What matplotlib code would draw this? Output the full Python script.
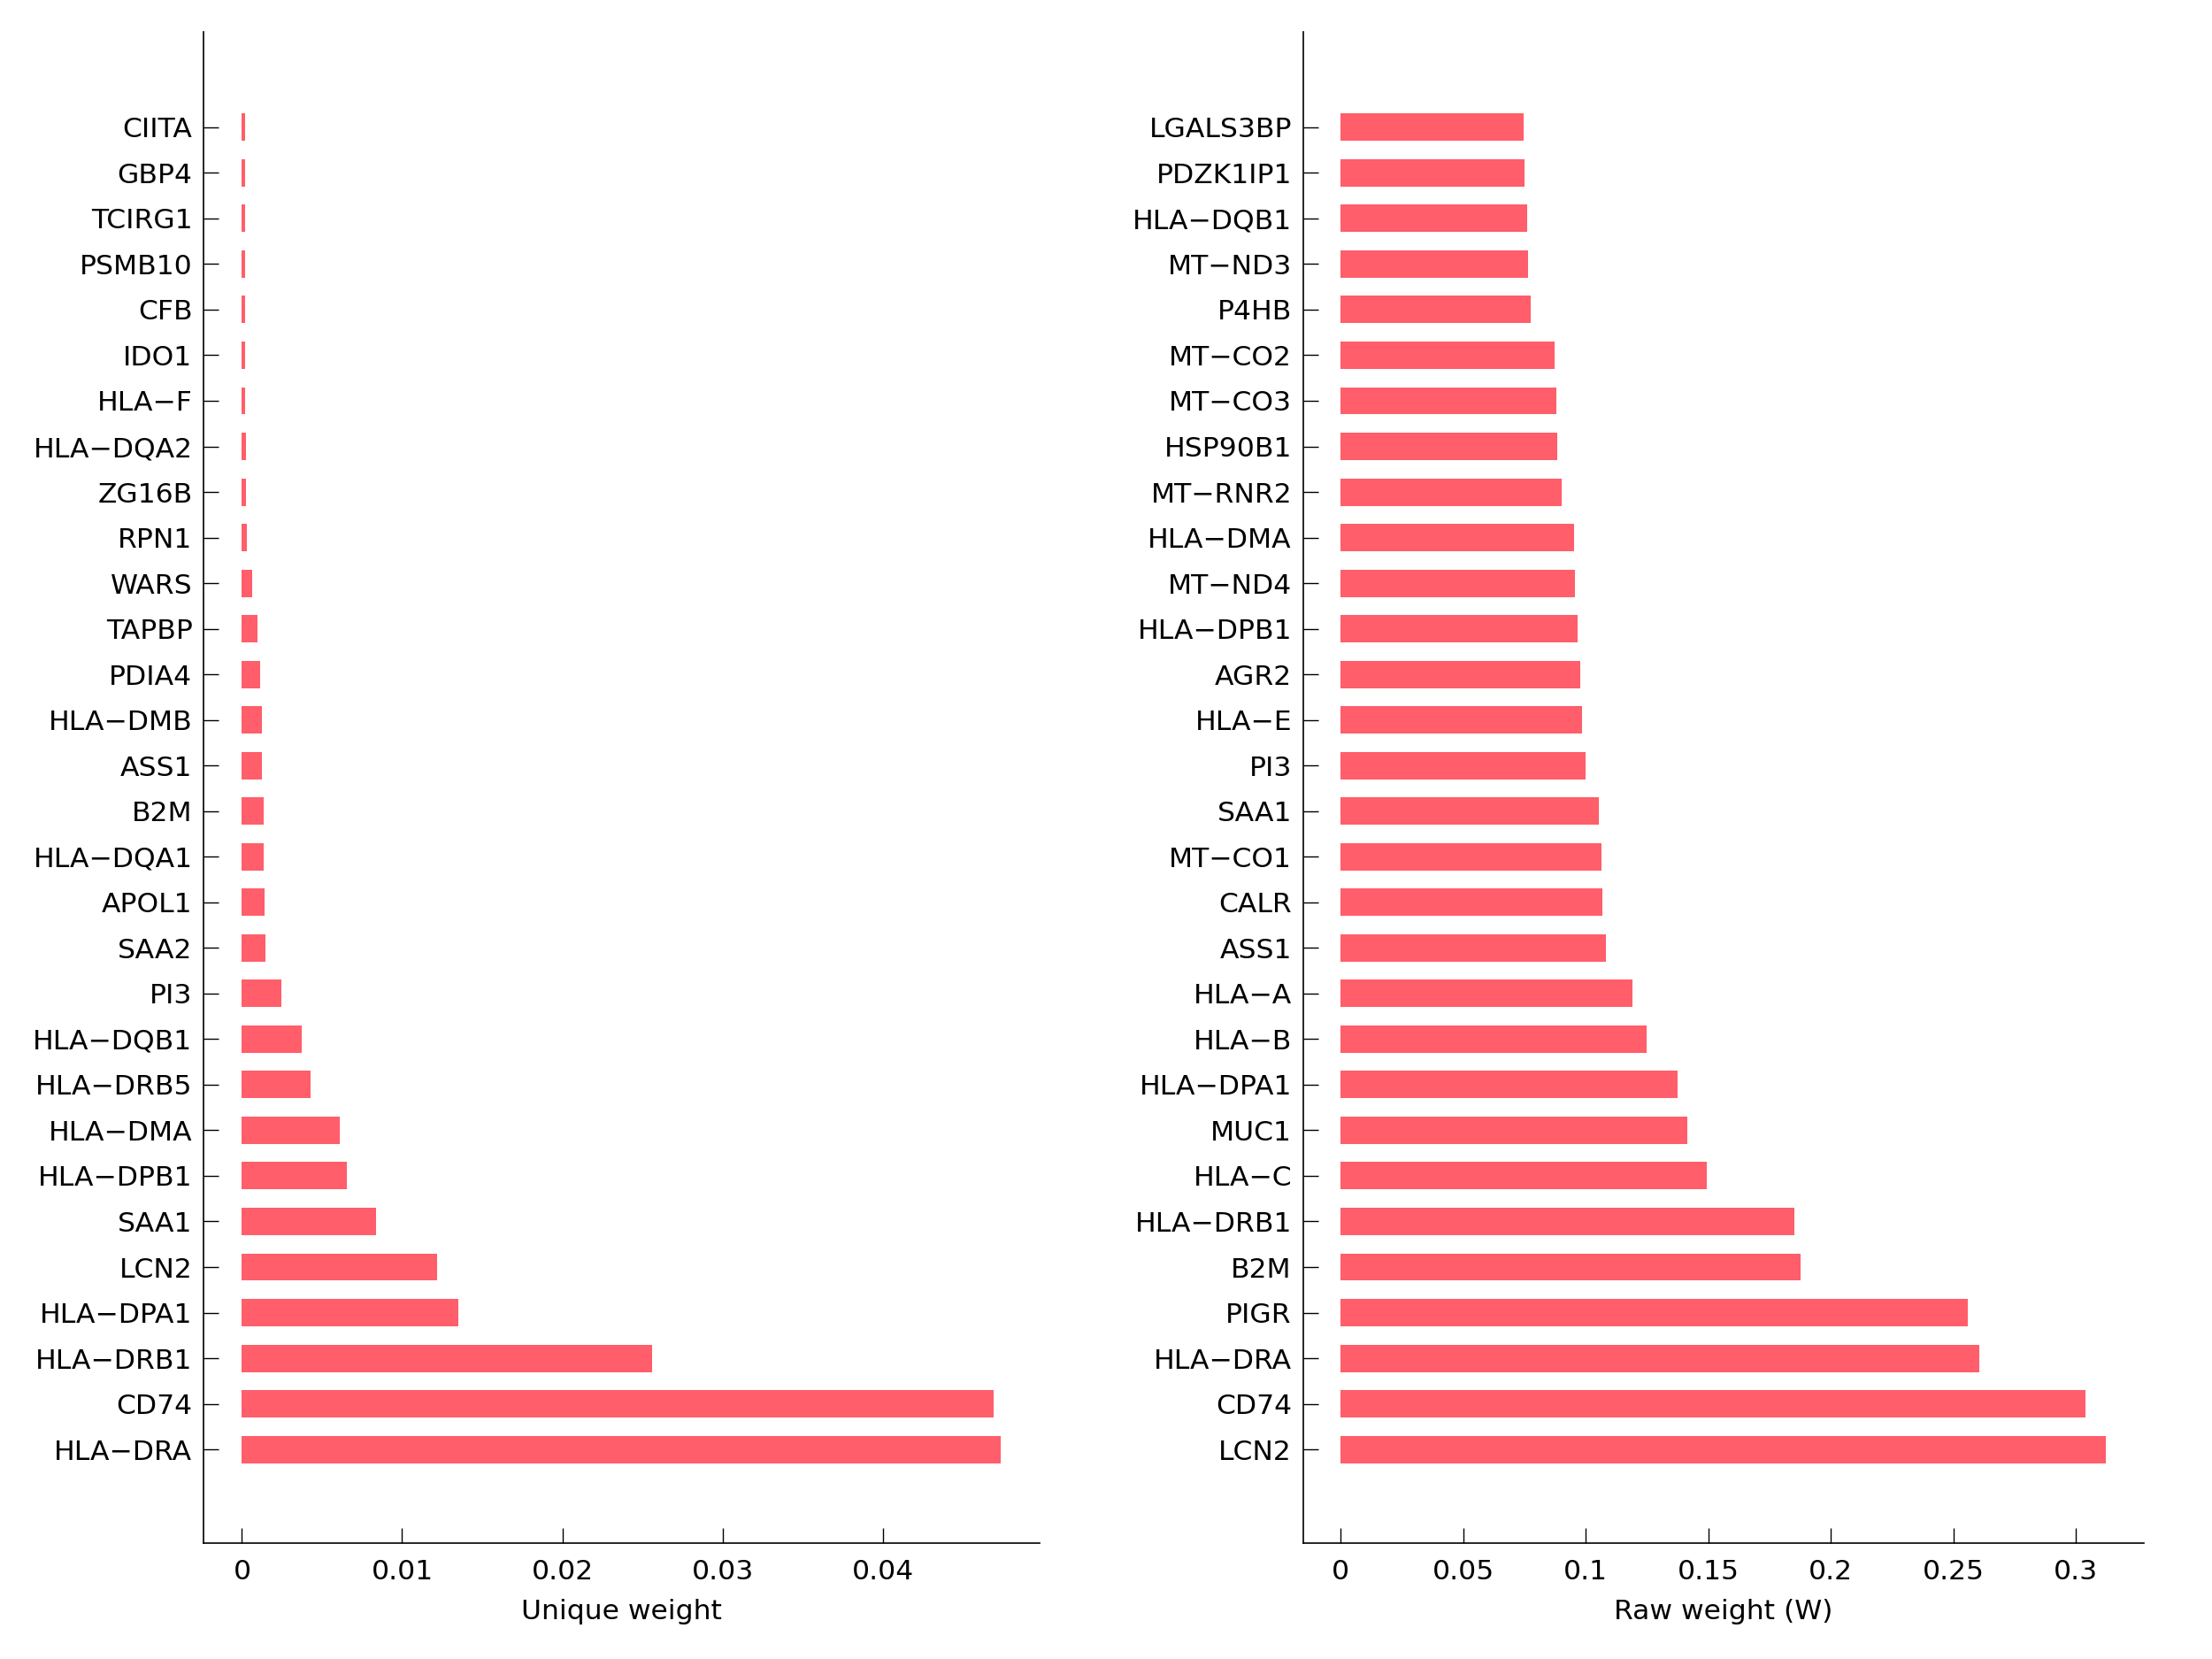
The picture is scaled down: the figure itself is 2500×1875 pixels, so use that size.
import numpy as np
import matplotlib
matplotlib.use('Agg')
import matplotlib.pyplot as plt

# Left panel: unique weight (listed bottom -> top)
uniq_genes = ['HLA-DRA', 'CD74', 'HLA-DRB1', 'HLA-DPA1', 'LCN2', 'SAA1',
              'HLA-DPB1', 'HLA-DMA', 'HLA-DRB5', 'HLA-DQB1', 'PI3', 'SAA2',
              'APOL1', 'HLA-DQA1', 'B2M', 'ASS1', 'HLA-DMB', 'PDIA4',
              'TAPBP', 'WARS', 'RPN1', 'ZG16B', 'HLA-DQA2', 'HLA-F',
              'IDO1', 'CFB', 'PSMB10', 'TCIRG1', 'GBP4', 'CIITA']
uniq_vals = [0.04738, 0.04690, 0.02560, 0.01349, 0.01218, 0.00835,
             0.00656, 0.00610, 0.00430, 0.00373, 0.00245, 0.00149,
             0.00143, 0.00138, 0.00136, 0.00125, 0.00123, 0.00116,
             0.00096, 0.00062, 0.00033, 0.00026, 0.00024, 0.00019,
             0.00019, 0.00018, 0.00018, 0.00018, 0.00018, 0.00018]

# Right panel: raw weight (listed bottom -> top)
raw_genes = ['LCN2', 'CD74', 'HLA-DRA', 'PIGR', 'B2M', 'HLA-DRB1',
             'HLA-C', 'MUC1', 'HLA-DPA1', 'HLA-B', 'HLA-A', 'ASS1',
             'CALR', 'MT-CO1', 'SAA1', 'PI3', 'HLA-E', 'AGR2',
             'HLA-DPB1', 'MT-ND4', 'HLA-DMA', 'MT-RNR2', 'HSP90B1', 'MT-CO3',
             'MT-CO2', 'P4HB', 'MT-ND3', 'HLA-DQB1', 'PDZK1IP1', 'LGALS3BP']
raw_vals = [0.3124, 0.3039, 0.2606, 0.2560, 0.1875, 0.1853,
            0.1494, 0.1413, 0.1374, 0.1248, 0.1192, 0.1083,
            0.1069, 0.1063, 0.1054, 0.0999, 0.0985, 0.0977,
            0.0965, 0.0956, 0.0951, 0.0901, 0.0884, 0.0880,
            0.0871, 0.0776, 0.0765, 0.0760, 0.0751, 0.0745]

uniq_ticks = [0, 0.01, 0.02, 0.03, 0.04]
raw_ticks = [0, 0.05, 0.1, 0.15, 0.2, 0.25, 0.3]
uniq_tlabels = ['0', '0.01', '0.02', '0.03', '0.04']
raw_tlabels = ['0', '0.05', '0.1', '0.15', '0.2', '0.25', '0.3']

BARCOL = '#ff5e6a'
plt.rcParams['font.family'] = ['DejaVu Sans']
plt.rcParams['font.size'] = 11.3


def fix_label(s):
  return s.replace('-', '\u2212')


def draw_panel(ax, genes, vals, ticks, tlabels, xlab, xlim):
  pos = np.arange(1, len(genes) + 1)
  ax.barh(pos, vals, height=0.6, color=BARCOL, edgecolor='none')
  ax.set_yticks(pos)
  ax.set_yticklabels([fix_label(g) for g in genes])
  ax.set_xticks(ticks)
  ax.set_xticklabels(tlabels)
  ax.set_xlim(xlim)
  ax.set_ylim(-1.05, 32.1)
  ax.set_xlabel(xlab, labelpad=6)
  for s in ['top', 'right']:
    ax.spines[s].set_visible(False)
  for s in ['left', 'bottom']:
    ax.spines[s].set_linewidth(0.6)
  ax.tick_params(axis='y', direction='in', length=6, width=0.5, pad=4.5)
  ax.tick_params(axis='x', direction='in', length=6, width=0.5, pad=6.5)


fig01 = plt.figure(figsize=(12.5, 9.375), dpi=200)

axs01 = fig01.add_axes([0.092, 0.070, 0.378, 0.911])
draw_panel(axs01, uniq_genes, uniq_vals, uniq_ticks, uniq_tlabels,
           'Unique weight', (-0.0024, 0.0498))

axs02 = fig01.add_axes([0.589, 0.070, 0.380, 0.911])
draw_panel(axs02, raw_genes, raw_vals, raw_ticks, raw_tlabels,
           'Raw weight (W)', (-0.0155, 0.3276))

plt.savefig('out.png', dpi=200)
plt.close()
